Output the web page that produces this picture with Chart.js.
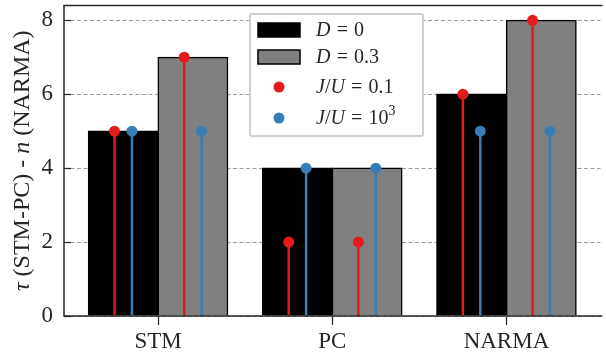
<!DOCTYPE html>
<html>
<head>
<meta charset="utf-8">
<script src="https://cdn.jsdelivr.net/npm/chart.js@4/dist/chart.umd.min.js"></script>
<style>
  html, body { margin: 0; padding: 0; background: #fff; }
  #wrap { width: 606px; height: 354px; position: relative; }
</style>
</head>
<body>
<div id="wrap"><canvas id="chart"></canvas></div>
<script>
// Tasks on the x axis
const categories = ['STM', 'PC', 'NARMA'];
// Bar heights for each disorder strength
const barsD0 = [5, 4, 6];
const barsD03 = [7, 4, 8];
// Stem values, J/U = 0.1 (red) and J/U = 10^3 (blue), inside each bar
const redInD0 = [5, 2, 6];
const redInD03 = [7, 2, 8];
const blueInD0 = [5, 4, 5];
const blueInD03 = [5, 4, 5];
// Value-axis ticks
const yTicks = [0, 2, 4, 6, 8];

const RED = '#e41a1c';
const BLUE = '#377eb8';
const GRAY = '#808080';
const INK = '#262626';
const SERIF = '"Liberation Serif", "DejaVu Serif", serif';

const X_MIN = -0.54, X_MAX = 2.54;
const Y_MAX = 8.4;
const BAR_HALF = 0.2;     // centre of each bar relative to the category
const STEM_SHIFT = 0.05;  // stems sit either side of the bar centre

const toPts = (vals, off) => vals.map((v, i) => ({ x: i + off, y: v }));
const barPts = (vals) => vals.map((v, i) => ({ x: i, y: v }));
// Vertical segments from the baseline to each value, separated by gaps
const stemPts = (vals, off) => vals.flatMap((v, i) => [
  { x: i + off, y: 0 }, { x: i + off, y: v }, { x: i + off, y: null }
]);

function stemSet(vals, off, color) {
  return {
    type: 'line', data: stemPts(vals, off), spanGaps: false,
    borderColor: color, borderWidth: 2.5, borderCapStyle: 'butt',
    pointRadius: 0, pointHoverRadius: 0, fill: false, tension: 0, order: 5
  };
}
function dotSet(vals, off, color) {
  return {
    type: 'scatter', data: toPts(vals, off),
    pointRadius: 5.5, pointBackgroundColor: color, pointBorderWidth: 0,
    pointHoverRadius: 5.5, order: 1
  };
}

// Axis frame (left, bottom, top) plus inward y tick marks
const framePlugin = {
  id: 'frame',
  afterDatasetsDraw(chart) {
    const { ctx, chartArea: a, scales } = chart;
    ctx.save();
    ctx.strokeStyle = INK;
    ctx.lineWidth = 1.5;
    ctx.beginPath();
    ctx.moveTo(a.right + 2, a.top); ctx.lineTo(a.left, a.top);
    ctx.lineTo(a.left, a.bottom); ctx.lineTo(a.right + 2, a.bottom);
    ctx.stroke();
    ctx.lineWidth = 1.25;
    scales.y.ticks.forEach(t => {
      const py = Math.round(scales.y.getPixelForValue(t.value)) + 0.5;
      ctx.beginPath(); ctx.moveTo(a.left, py); ctx.lineTo(a.left + 7, py); ctx.stroke();
    });
    ctx.restore();
  }
};

// Draws a run of text pieces (mixed italic / upright / superscript)
function drawRun(ctx, pieces, x, y, size) {
  let cx = x;
  pieces.forEach(p => {
    if (p.gap) { cx += p.gap * size; return; }
    const s = p.sup ? size * 0.7 : size;
    ctx.font = (p.it ? 'italic ' : '') + s + 'px ' + SERIF;
    ctx.fillText(p.t, cx, p.sup ? y - size * 0.38 : y);
    cx += ctx.measureText(p.t).width;
  });
  return cx - x;
}
function runWidth(ctx, pieces, size) {
  let w = 0;
  pieces.forEach(p => {
    if (p.gap) { w += p.gap * size; return; }
    const s = p.sup ? size * 0.7 : size;
    ctx.font = (p.it ? 'italic ' : '') + s + 'px ' + SERIF;
    w += ctx.measureText(p.t).width;
  });
  return w;
}

// Rotated value-axis title: τ (STM-PC) - n (NARMA)
const yTitlePlugin = {
  id: 'yTitle',
  afterDraw(chart) {
    const { ctx, chartArea: a } = chart;
    const size = 24;
    const pieces = [
      { t: 'τ', it: true }, { t: ' (STM-PC) - ' }, { t: 'n', it: true }, { t: ' (NARMA)' }
    ];
    ctx.save();
    ctx.fillStyle = INK;
    ctx.textBaseline = 'alphabetic';
    const w = runWidth(ctx, pieces, size);
    ctx.translate(29, (a.top + a.bottom) / 2);
    ctx.rotate(-Math.PI / 2);
    drawRun(ctx, pieces, -w / 2, 0, size);
    ctx.restore();
  }
};

// Legend box with bar swatches and stem markers
const legendPlugin = {
  id: 'mathLegend',
  afterDraw(chart) {
    const { ctx } = chart;
    const bx = 250, by = 14, bw = 173, bh = 122;
    const size = 20;
    const g = 0.31;
    ctx.save();
    ctx.fillStyle = 'rgba(255,255,255,0.95)';
    ctx.strokeStyle = '#d0d0d0';
    ctx.lineWidth = 2;
    ctx.beginPath();
    ctx.roundRect(bx, by, bw, bh, 2);
    ctx.fill(); ctx.stroke();

    const sx = 258, sw = 42, tx = 316;
    const rows = [
      { cy: 30, kind: 'bar', fill: '#000', label: [{ t: 'D', it: true }, { gap: g }, { t: '=' }, { gap: g }, { t: '0' }] },
      { cy: 57, kind: 'bar', fill: GRAY, label: [{ t: 'D', it: true }, { gap: g }, { t: '=' }, { gap: g }, { t: '0.3' }] },
      { cy: 87, kind: 'dot', fill: RED, label: [{ t: 'J', it: true }, { t: '/' }, { t: 'U', it: true }, { gap: g }, { t: '=' }, { gap: g }, { t: '0.1' }] },
      { cy: 118, kind: 'dot', fill: BLUE, label: [{ t: 'J', it: true }, { t: '/' }, { t: 'U', it: true }, { gap: g }, { t: '=' }, { gap: g }, { t: '10' }, { t: '3', sup: true }] }
    ];
    rows.forEach(r => {
      if (r.kind === 'bar') {
        ctx.fillStyle = r.fill;
        ctx.fillRect(sx, r.cy - 7, sw, 14);
        ctx.strokeStyle = '#000';
        ctx.lineWidth = 1.5;
        ctx.strokeRect(sx, r.cy - 7, sw, 14);
      } else {
        ctx.fillStyle = r.fill;
        ctx.beginPath();
        ctx.arc(sx + sw / 2, r.cy, 5.5, 0, Math.PI * 2);
        ctx.fill();
      }
      ctx.fillStyle = INK;
      ctx.textBaseline = 'middle';
      drawRun(ctx, r.label, tx, r.cy + 1, size);
    });
    ctx.restore();
  }
};

const noEdgePadding = s => { s.paddingTop = 0; s.paddingBottom = 0; s.paddingLeft = 0; s.paddingRight = 0; };

new Chart(document.getElementById('chart'), {
  type: 'bar',
  data: {
    datasets: [
      { label: 'D = 0', data: barPts(barsD0), backgroundColor: '#000',
        borderColor: '#000', borderWidth: 1.5, inflateAmount: 0.6,
        categoryPercentage: 0.8, barPercentage: 1, order: 10 },
      { label: 'D = 0.3', data: barPts(barsD03), backgroundColor: GRAY,
        borderColor: '#000', borderWidth: 1.5, inflateAmount: 0.6,
        categoryPercentage: 0.8, barPercentage: 1, order: 10 },
      stemSet(redInD0, -BAR_HALF - STEM_SHIFT, RED),
      stemSet(blueInD0, -BAR_HALF + STEM_SHIFT, BLUE),
      stemSet(redInD03, BAR_HALF - STEM_SHIFT, RED),
      stemSet(blueInD03, BAR_HALF + STEM_SHIFT, BLUE),
      dotSet(redInD0, -BAR_HALF - STEM_SHIFT, RED),
      dotSet(blueInD0, -BAR_HALF + STEM_SHIFT, BLUE),
      dotSet(redInD03, BAR_HALF - STEM_SHIFT, RED),
      dotSet(blueInD03, BAR_HALF + STEM_SHIFT, BLUE)
    ]
  },
  options: {
    responsive: true,
    maintainAspectRatio: false,
    animation: false,
    events: [],
    layout: { padding: { top: 5, right: 0, left: 0, bottom: 0 } },
    plugins: { legend: { display: false }, tooltip: { enabled: false } },
    scales: {
      x: {
        type: 'linear', position: 'bottom', min: X_MIN, max: X_MAX, offset: false,
        afterBuildTicks: s => { s.ticks = categories.map((_, i) => ({ value: i })); },
        afterFit: s => { s.height = 38; noEdgePadding(s); },
        ticks: {
          callback: v => categories[Math.round(v)],
          font: { family: SERIF, size: 23 }, color: INK, padding: 3, maxRotation: 0, autoSkip: false
        },
        grid: { offset: false, drawOnChartArea: false, drawTicks: true, tickLength: 9, tickColor: INK, tickWidth: 1.25 },
        border: { display: false }
      },
      y: {
        min: 0, max: Y_MAX,
        afterBuildTicks: s => { s.ticks = yTicks.map(v => ({ value: v })); },
        afterFit: s => { s.width = 64; noEdgePadding(s); },
        ticks: { font: { family: SERIF, size: 23 }, color: INK, padding: 11 },
        grid: { color: '#9a9a9a', lineWidth: 1, drawTicks: false },
        border: { display: false, dash: [4, 2.5] }
      }
    }
  },
  plugins: [framePlugin, yTitlePlugin, legendPlugin]
});
</script>
</body>
</html>
